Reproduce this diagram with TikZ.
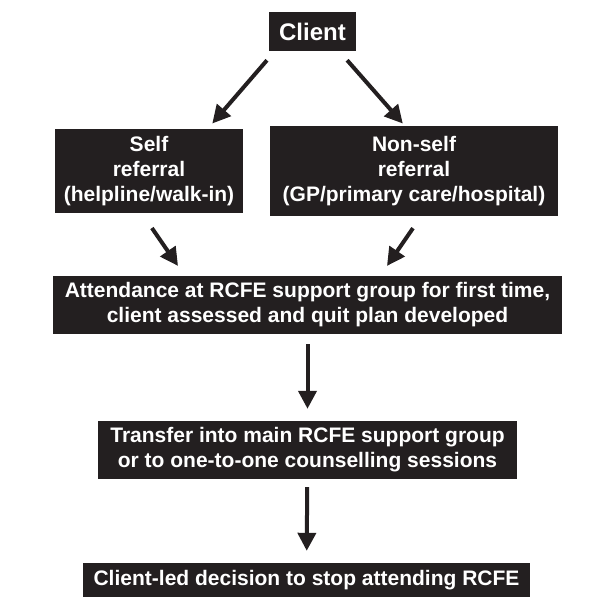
\documentclass[tikz,border=0pt]{standalone}
\usepackage{fontspec}
\setmainfont{Liberation Sans}
\usetikzlibrary{positioning,arrows.meta}
\definecolor{noir}{RGB}{35,31,32}

\begin{document}
\begin{tikzpicture}[
    x=1pt,
    y=-1pt,
    box/.style={
        fill=noir,
        text=white,
        align=center,
        font=\fontsize{21}{25}\selectfont\bfseries,
        inner xsep=4pt,
        inner ysep=0pt
    },
    edge/.style={-{Triangle[length=18pt,width=18pt]}, line width=4pt, draw=noir}
]
\useasboundingbox (0,0) rectangle (608,606);

% === Client ===
\node[box, font=\fontsize{24}{28}\selectfont\bfseries, minimum width=87pt, minimum height=39pt] (client) at (312.5,31.5)
{Client};

% === Referral ===
\node[box, minimum width=188pt, minimum height=84pt] (self) at (149,171)
{Self\\referral\\(helpline/walk-in)};

\node[box, minimum width=288pt, minimum height=90pt] (nonself) at (414,171)
{Non-self\\referral\\(GP/primary care/hospital)};

% === Support group ===
\node[box, minimum width=509pt, minimum height=58pt] (attend) at (307.5,305)
{Attendance at RCFE support group for first time,\\client assessed and quit plan developed};

\node[box, minimum width=419pt, minimum height=58pt] (transfer) at (307.5,450)
{Transfer into main RCFE support group\\or to one-to-one counselling sessions};

\node[box, minimum width=447pt, minimum height=34pt] (stop) at (306.5,580)
{Client-led decision to stop attending RCFE};

% === Arrows ===
\draw[edge, shorten <=12pt, shorten >=7pt] ([xshift=6pt]client.south west) -- ([xshift=58.7pt]self.north);
\draw[edge, shorten <=12pt, shorten >=3pt] ([xshift=-17pt]client.south east) -- ([xshift=-9.2pt]nonself.north);

\draw[edge, shorten <=18pt, shorten >=12pt] ([xshift=-7.3pt]self.south) -- ([xshift=-122.7pt]attend.north);
\draw[edge, shorten <=14.5pt, shorten >=12pt] ([xshift=7.2pt]nonself.south) -- ([xshift=72.7pt]attend.north);

\draw[edge, shorten <=10pt, shorten >=12pt] (attend) -- (transfer);
\draw[edge, shorten <=8pt, shorten >=12pt] (transfer) -- (stop);

\end{tikzpicture}
\end{document}
